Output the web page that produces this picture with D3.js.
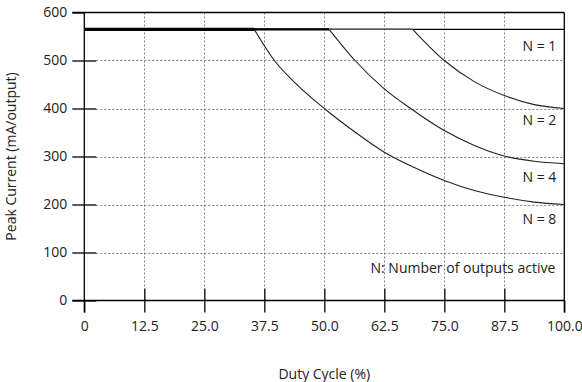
<!DOCTYPE html>
<html>
<head>
<meta charset="utf-8">
<script src="https://cdn.jsdelivr.net/npm/d3@7"></script>
<style>
  html, body { margin: 0; padding: 0; background: #fff; }
  svg { display: block; }
  text { font-family: "Open Sans", "Liberation Sans", sans-serif; fill: #222; }
</style>
</head>
<body>
<script>
// ---- data ----
const yTicks = [0, 100, 200, 300, 400, 500, 600];
const xTicks = [0, 12.5, 25, 37.5, 50, 62.5, 75, 87.5, 100];
const xTickLabels = ["0", "12.5", "25.0", "37.5", "50.0", "62.5", "75.0", "87.5", "100.0"];

const seriesNames = ["N = 1", "N = 2", "N = 4", "N = 8"];
const labelValues = [528, 373, 254, 167];   // where each label sits (mA)
const peakCurrent = 565;

const n1Duty = [0, 100];
const n1Vals = [565, 565];
const n2Duty = [0, 68.4, 75, 81.25, 87.5, 93.75, 100];
const n2Vals = [565, 565, 500, 456, 427, 408, 400];
const n4Duty = [0, 51, 56.4, 62.5, 68, 75, 81.25, 87.5, 93.75, 100];
const n4Vals = [565, 565, 500, 441, 400, 354, 323, 301, 290, 285];
const n8Duty = [0, 35.4, 39.6, 43.75, 50, 56.25, 62.5, 68.75, 75, 81.25, 87.5, 93.75, 100];
const n8Vals = [565, 565, 500, 455, 400, 352, 309, 277, 250, 229, 215, 205, 200];

const noteText = "N: Number of outputs active";
const noteValue = 65;
const xTitle = "Duty Cycle (%)";
const yTitle = "Peak Current (mA/output)";

// ---- chart ----
const W = 582, H = 382;
const L = 84.3, R = 564.3, T = 12.5, B = 300.5;
const TK = 12;

const svg = d3.select("body").append("svg").attr("width", W).attr("height", H);

const x = d3.scaleLinear().domain([0, 100]).range([L, R]);
const y = d3.scaleLinear().domain([0, 600]).range([B, T]);

// grid
const grid = svg.append("g").attr("stroke", "#808080").attr("stroke-width", 1)
  .attr("stroke-dasharray", "2,2").attr("fill", "none");
grid.selectAll("line.v").data(xTicks.filter(d => d > 0 && d < 100)).join("line")
  .attr("x1", d => Math.round(x(d)) + 0.5).attr("x2", d => Math.round(x(d)) + 0.5)
  .attr("y1", y(600)).attr("y2", y(0) - TK);
grid.selectAll("line.h").data(yTicks.filter(d => d > 0 && d < 600)).join("line")
  .attr("y1", d => Math.round(y(d)) + 0.5).attr("y2", d => Math.round(y(d)) + 0.5)
  .attr("x1", x(0) + TK).attr("x2", x(100));

// axes
const fontSize = 14;
const yAxisOut = d3.axisLeft(y).tickValues(yTicks).tickSize(TK).tickPadding(5);
const yAxisIn = d3.axisLeft(y).tickValues(yTicks.filter(d => d < 600)).tickSize(-TK).tickFormat("");
const xAxisOut = d3.axisBottom(x).tickValues(xTicks).tickSize(TK).tickPadding(9)
  .tickFormat((d, i) => xTickLabels[i]);
const xAxisIn = d3.axisBottom(x).tickValues(xTicks.filter(d => d > 0 && d < 100)).tickSize(-TK).tickFormat("");

function styleAxis(g) {
  g.select(".domain").remove();
  g.selectAll("line").attr("stroke", "#000").attr("stroke-width", 1.3);
  g.selectAll("text").attr("font-size", fontSize).attr("fill", "#222")
    .attr("font-family", "\"Open Sans\", sans-serif");
}
svg.append("g").attr("transform", `translate(${L},0)`).call(yAxisOut).call(styleAxis);
svg.append("g").attr("transform", `translate(${L},0)`).call(yAxisIn).call(styleAxis);
svg.append("g").attr("transform", `translate(0,${B})`).call(xAxisOut).call(styleAxis);
svg.append("g").attr("transform", `translate(0,${B})`).call(xAxisIn).call(styleAxis);

// frame lines
const frame = svg.append("g").attr("stroke", "#000").attr("stroke-width", 1.3);
frame.append("line").attr("x1", x(0)).attr("x2", x(0)).attr("y1", y(600)).attr("y2", y(0) + TK);
frame.append("line").attr("x1", x(0) - TK).attr("x2", x(100)).attr("y1", y(0)).attr("y2", y(0));
frame.append("line").attr("x1", x(0) - TK).attr("x2", x(100)).attr("y1", y(600)).attr("y2", y(600));
frame.append("line").attr("x1", x(100)).attr("x2", x(100)).attr("y1", y(600)).attr("y2", y(0) + TK);

// series
const series = [
  { name: seriesNames[0], duty: n1Duty, vals: n1Vals },
  { name: seriesNames[1], duty: n2Duty, vals: n2Vals },
  { name: seriesNames[2], duty: n4Duty, vals: n4Vals },
  { name: seriesNames[3], duty: n8Duty, vals: n8Vals }
];
const plateauStyle = [
  { w: 1.2, c: "#000" },
  { w: 1.6, c: "#555" },
  { w: 2.3, c: "#000" },
  { w: 3.2, c: "#000" }
];

const lineGen = d3.line().x(d => x(d[0])).y(d => y(d[1])).curve(d3.curveMonotoneX);
const flatGen = d3.line().x(d => x(d[0])).y(d => y(d[1]));

function split(s) {
  const pts = s.duty.map((d, k) => [d, s.vals[k]]);
  const kneeIdx = pts.findIndex((p, k) => k > 0 && p[1] < peakCurrent) - 1;
  return {
    flat: kneeIdx >= 0 ? pts.slice(0, kneeIdx + 1) : pts,
    decay: kneeIdx >= 0 ? pts.slice(kneeIdx) : null
  };
}

series.forEach(s => {
  const { decay } = split(s);
  if (decay) {
    svg.append("path").datum(decay).attr("d", lineGen)
      .attr("fill", "none").attr("stroke", "#222").attr("stroke-width", 1.1);
  }
});
series.forEach((s, i) => {
  const { flat } = split(s);
  svg.append("path").datum(flat).attr("d", flatGen)
    .attr("fill", "none").attr("stroke", plateauStyle[i].c).attr("stroke-width", plateauStyle[i].w);
});

// series labels
series.forEach((s, i) => {
  svg.append("text").attr("x", x(100) - 8).attr("y", y(labelValues[i]))
    .attr("text-anchor", "end").attr("dominant-baseline", "middle")
    .attr("font-size", 14).text(s.name);
});

svg.append("text").attr("x", x(100) - 9).attr("y", y(noteValue))
  .attr("text-anchor", "end").attr("dominant-baseline", "middle")
  .attr("font-size", 14).text(noteText);

// axis titles
svg.append("text").attr("x", (L + R) / 2).attr("y", 375)
  .attr("text-anchor", "middle").attr("dominant-baseline", "middle")
  .attr("font-size", 14).text(xTitle);
svg.append("text").attr("transform", `translate(12,${(T + B) / 2}) rotate(-90)`)
  .attr("text-anchor", "middle").attr("dominant-baseline", "middle")
  .attr("font-size", 14).text(yTitle);
</script>
</body>
</html>
